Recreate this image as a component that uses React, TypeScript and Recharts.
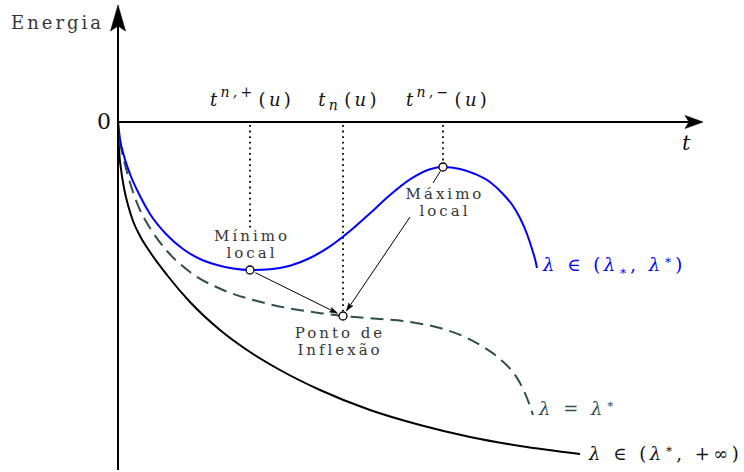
import React from "react";
import { ComposedChart, Line, XAxis, YAxis, ReferenceLine, ReferenceDot } from "recharts";

const W = 744;
const H = 472;
const SERIF = "'DejaVu Serif', 'Liberation Serif', serif";
const BLUE = "#0000ff";
const SLATE = "#2f4f4f";
const INK = "#000000";
const GREY = "#363636";

// λ ∈ (λ*, λ*): mínimo local, inflexão, máximo local
const tBlue = [0, 0.02, 0.06, 0.12, 0.22, 0.32, 0.49, 0.65, 0.82, 0.99, 1.15, 1.32, 1.52, 1.72, 1.92, 2.12, 2.32, 2.52, 2.72, 2.92, 3.12, 3.25, 3.42, 3.57, 3.72, 3.85, 3.95, 4.02, 4.09, 4.14, 4.175, 4.19];
const eBlue = [0, -0.17, -0.34, -0.52, -0.74, -0.92, -1.13, -1.27, -1.37, -1.43, -1.465, -1.48, -1.472, -1.437, -1.36, -1.244, -1.091, -0.913, -0.73, -0.574, -0.472, -0.45, -0.47, -0.52, -0.6, -0.72, -0.84, -0.96, -1.12, -1.27, -1.39, -1.46];

// λ = λ*: só o ponto de inflexão
const tDash = [0, 0.01, 0.04, 0.09, 0.15, 0.22, 0.32, 0.49, 0.72, 1.05, 1.39, 1.72, 2.05, 2.25, 2.55, 2.92, 3.22, 3.47, 3.67, 3.82, 3.94, 4.02, 4.09, 4.15];
const eDash = [0, -0.13, -0.3, -0.5, -0.7, -0.88, -1.06, -1.29, -1.5, -1.68, -1.79, -1.865, -1.915, -1.94, -1.965, -2.0, -2.06, -2.15, -2.26, -2.37, -2.49, -2.61, -2.76, -2.93];

// λ ∈ (λ*, +∞): decrescente
const tBlack = [0, 0.01, 0.03, 0.06, 0.1, 0.15, 0.22, 0.32, 0.49, 0.72, 1.02, 1.32, 1.62, 2.02, 2.52, 3.02, 3.52, 4.02, 4.62];
const eBlack = [0, -0.27, -0.47, -0.66, -0.83, -0.99, -1.14, -1.3, -1.53, -1.8, -2.08, -2.3, -2.48, -2.68, -2.88, -3.03, -3.15, -3.24, -3.32];

// pontos críticos e marcas no eixo t
const tPlus = 1.32;
const tN = 2.25;
const tMinus = 3.25;
const eMin = -1.48;
const eInfl = -1.94;
const eMax = -0.45;
const tickAt = [tPlus, tN, tMinus];
const tickSup = ["n,+", "", "n,−"];
const tickSub = ["", "n", ""];

const X_DOMAIN: [number, number] = [-1.18, 6.26];
const Y_DOMAIN: [number, number] = [-3.5, 1.22];
const X_END = 5.85;
const Y_TOP = 1.17;
const Y_BOTTOM = -3.48;

const zip = (ts: number[], es: number[]) => ts.map((t, i) => ({ t, e: es[i] }));
const blue = zip(tBlue, eBlue);
const dashed = zip(tDash, eDash);
const black = zip(tBlack, eBlack);

type ArrowOpts = {
  trimStart?: number;
  trimEnd?: number;
  head?: number;
  headW?: number;
  notch?: number;
  width?: number;
  color?: string;
};

// segmento com ponta de seta, a partir das extremidades calculadas pelo ReferenceLine
function arrow(o: ArrowOpts) {
  return (p: any) => {
    const { x1, y1, x2, y2 } = p;
    const dx = x2 - x1;
    const dy = y2 - y1;
    const len = Math.hypot(dx, dy) || 1;
    const ux = dx / len;
    const uy = dy / len;
    const nx = -uy;
    const ny = ux;
    const a = o.trimStart ?? 0;
    const b = o.trimEnd ?? 0;
    const sx = x1 + ux * a;
    const sy = y1 + uy * a;
    const tx = x2 - ux * b;
    const ty = y2 - uy * b;
    const col = o.color ?? INK;
    const sw = o.width ?? 1;
    const L = o.head ?? 0;
    if (!L) return <line x1={sx} y1={sy} x2={tx} y2={ty} stroke={col} strokeWidth={sw} />;
    const hw = (o.headW ?? 0) / 2;
    const nt = o.notch ?? 0;
    const bx = tx - ux * L;
    const by = ty - uy * L;
    const mx = bx + ux * nt;
    const my = by + uy * nt;
    return (
      <g>
        <line x1={sx} y1={sy} x2={mx} y2={my} stroke={col} strokeWidth={sw} />
        <path
          d={`M${tx},${ty} L${bx + nx * hw},${by + ny * hw} L${mx},${my} L${bx - nx * hw},${by - ny * hw} Z`}
          fill={col}
          stroke={col}
          strokeWidth={0.6}
          strokeLinejoin="round"
        />
      </g>
    );
  };
}

const at = (key: string, x: number, y: number, draw: (cx: number, cy: number) => React.ReactElement) => (
  <ReferenceDot key={key} x={x} y={y} r={0} ifOverflow="visible" shape={(p: any) => draw(p.cx, p.cy)} />
);

const noteStyle = { fontFamily: SERIF, fontSize: 15, letterSpacing: 3, fill: GREY } as const;
const mathStyle = { fontFamily: SERIF, fontSize: 18, letterSpacing: 3.5 } as const;

// rótulo de duas linhas centrado num ponto
function note(key: string, x: number, y: number, lines: string[], dx: number, dy: number, gap = 17) {
  return at(key, x, y, (cx, cy) => (
    <text textAnchor="middle" {...noteStyle}>
      {lines.map((s, i) => (
        <tspan key={i} x={cx + dx} y={cy + dy + i * gap}>
          {s}
        </tspan>
      ))}
    </text>
  ));
}

const tickNudge = [2, 6, 5];

export default function App() {
  return (
    <div style={{ position: "absolute", left: 0, top: 0, width: W, height: H, background: "#fff" }}>
      <ComposedChart width={W} height={H} margin={{ top: 0, right: 0, bottom: 0, left: 0 }}>
        <XAxis dataKey="t" type="number" domain={X_DOMAIN} allowDataOverflow hide />
        <YAxis type="number" domain={Y_DOMAIN} allowDataOverflow hide />

        {/* linhas pontilhadas até os pontos críticos */}
        <ReferenceLine
          segment={[{ x: tPlus, y: -0.03 }, { x: tPlus, y: eMin + 0.42 }]}
          ifOverflow="visible"
          stroke={INK}
          strokeWidth={1.8}
          strokeDasharray="1.8 3.8"
        />
        <ReferenceLine
          segment={[{ x: tN, y: -0.03 }, { x: tN, y: eInfl + 0.05 }]}
          ifOverflow="visible"
          stroke={INK}
          strokeWidth={1.8}
          strokeDasharray="1.8 3.8"
        />
        <ReferenceLine
          segment={[{ x: tMinus, y: -0.03 }, { x: tMinus, y: eMax + 0.05 }]}
          ifOverflow="visible"
          stroke={INK}
          strokeWidth={1.8}
          strokeDasharray="1.8 3.8"
        />

        <Line
          data={black}
          dataKey="e"
          type="monotone"
          stroke={INK}
          strokeWidth={2}
          dot={false}
          activeDot={false}
          isAnimationActive={false}
        />
        <Line
          data={dashed}
          dataKey="e"
          type="monotone"
          stroke={SLATE}
          strokeWidth={2}
          strokeDasharray="13 7"
          dot={false}
          activeDot={false}
          isAnimationActive={false}
        />
        <Line
          data={blue}
          dataKey="e"
          type="monotone"
          stroke={BLUE}
          strokeWidth={2}
          dot={false}
          activeDot={false}
          isAnimationActive={false}
        />

        {/* eixos */}
        <ReferenceLine
          segment={[{ x: 0, y: 0 }, { x: X_END, y: 0 }]}
          ifOverflow="visible"
          shape={arrow({ head: 18, headW: 13, notch: 4, width: 2 })}
        />
        <ReferenceLine
          segment={[{ x: 0, y: Y_BOTTOM }, { x: 0, y: Y_TOP }]}
          ifOverflow="visible"
          shape={arrow({ head: 26, headW: 15, notch: 5, width: 2 })}
        />

        {/* setas das anotações */}
        <ReferenceLine
          segment={[{ x: tPlus, y: eMin }, { x: tN, y: eInfl }]}
          ifOverflow="visible"
          shape={arrow({ trimStart: 6, trimEnd: 6, head: 8, headW: 5, notch: 1.5, width: 1 })}
        />
        <ReferenceLine
          segment={[{ x: 2.92, y: -0.95 }, { x: tN, y: eInfl }]}
          ifOverflow="visible"
          shape={arrow({ trimEnd: 6, head: 8, headW: 5, notch: 1.5, width: 1 })}
        />
        <ReferenceLine
          segment={[{ x: tMinus, y: eMax }, { x: 3.15, y: -0.61 }]}
          ifOverflow="visible"
          shape={arrow({ trimStart: 5, width: 1 })}
        />

        <ReferenceDot x={tPlus} y={eMin} r={4} fill="#fff" stroke={INK} strokeWidth={1.3} ifOverflow="visible" />
        <ReferenceDot x={tN} y={eInfl} r={4} fill="#fff" stroke={INK} strokeWidth={1.3} ifOverflow="visible" />
        <ReferenceDot x={tMinus} y={eMax} r={4} fill="#fff" stroke={INK} strokeWidth={1.3} ifOverflow="visible" />

        {/* rótulos dos eixos */}
        {at("energia", 0, 0.93, (cx, cy) => (
          <text x={cx - 14} y={cy} textAnchor="end" fontFamily={SERIF} fontSize={18} letterSpacing={3} fill={GREY}>
            Energia
          </text>
        ))}
        {at("zero", 0, 0, (cx, cy) => (
          <text x={cx - 7} y={cy + 7} textAnchor="end" fontFamily={SERIF} fontSize={22} fill="#111">
            0
          </text>
        ))}
        {at("t", X_END, 0, (cx, cy) => (
          <text x={cx - 21} y={cy + 28} fontFamily={SERIF} fontSize={21} fontStyle="italic" fill="#111">
            t
          </text>
        ))}

        {tickAt.map((t, i) =>
          at(`tick-${i}`, t, 0, (cx, cy) => (
            <text x={cx + tickNudge[i]} y={cy - 16} textAnchor="middle" fontFamily={SERIF} fontSize={18} letterSpacing={3.3} fill="#111">
              <tspan fontStyle="italic">t</tspan>
              {tickSup[i] && (
                <tspan fontSize={14} dy={-9} fontStyle="italic">
                  {tickSup[i]}
                </tspan>
              )}
              {tickSub[i] && (
                <tspan fontSize={14} dy={4} fontStyle="italic">
                  {tickSub[i]}
                </tspan>
              )}
              <tspan dy={tickSup[i] ? 9 : -4} dx={3}>
                (
              </tspan>
              <tspan fontStyle="italic">u</tspan>
              <tspan>)</tspan>
            </text>
          ))
        )}

        {note("minimo", tPlus, eMin, ["Mínimo", "local"], 2, -29)}
        {note("maximo", tMinus, eMax, ["Máximo", "local"], 2, 32)}
        {note("inflexao", tN, eInfl, ["Ponto de", "Inflexão"], -3, 22)}

        {/* rótulos das curvas */}
        {at("lab-blue", tBlue[tBlue.length - 1], eBlue[eBlue.length - 1], (cx, cy) => (
          <text x={cx + 6} y={cy + 3} {...mathStyle} fill={BLUE}>
            <tspan fontStyle="italic">λ</tspan>
            <tspan> ∈ (</tspan>
            <tspan fontStyle="italic">λ</tspan>
            <tspan fontSize={12} dy={4}>∗</tspan>
            <tspan dy={-4}>, </tspan>
            <tspan fontStyle="italic">λ</tspan>
            <tspan fontSize={12} dy={-7}>∗</tspan>
            <tspan dy={7}>)</tspan>
          </text>
        ))}
        {at("lab-dash", tDash[tDash.length - 1], eDash[eDash.length - 1], (cx, cy) => (
          <text x={cx + 6} y={cy} {...mathStyle} fill={SLATE}>
            <tspan fontStyle="italic">λ</tspan>
            <tspan> = </tspan>
            <tspan fontStyle="italic">λ</tspan>
            <tspan fontSize={12} dy={-7}>∗</tspan>
          </text>
        ))}
        {at("lab-black", tBlack[tBlack.length - 1], eBlack[eBlack.length - 1], (cx, cy) => (
          <text x={cx + 9} y={cy + 6} {...mathStyle} fill="#111">
            <tspan fontStyle="italic">λ</tspan>
            <tspan> ∈ (</tspan>
            <tspan fontStyle="italic">λ</tspan>
            <tspan fontSize={12} dy={-7}>∗</tspan>
            <tspan dy={7}>, +∞)</tspan>
          </text>
        ))}
      </ComposedChart>
    </div>
  );
}
